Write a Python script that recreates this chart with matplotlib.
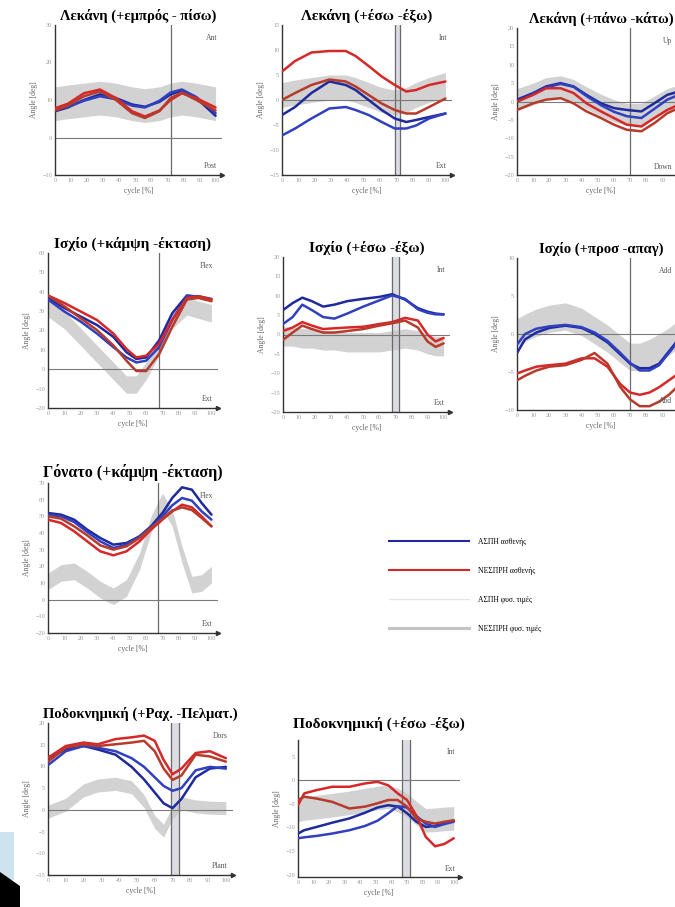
import numpy as np
import matplotlib
matplotlib.use("Agg")
import matplotlib.pyplot as plt
from matplotlib.patches import Polygon, Rectangle
from matplotlib.lines import Line2D
from matplotlib.transforms import blended_transform_factory

plt.rcParams['font.family'] = ['Liberation Serif', 'DejaVu Serif']

# ---------------- data ----------------
# Λεκάνη (+εμπρός -πίσω)
x_a = [0, 8, 18, 28, 38, 48, 56, 65, 72, 79, 88, 100]
a_blue1 = [7.0, 8.0, 10.0, 11.5, 10.5, 8.8, 8.2, 9.5, 11.5, 12.5, 10.5, 5.8]
a_blue2 = [7.5, 8.2, 9.8, 11.0, 10.2, 8.5, 8.0, 9.8, 12.0, 12.8, 10.8, 6.5]
a_red1 = [7.8, 9.0, 11.8, 12.8, 10.5, 7.0, 5.6, 7.2, 10.0, 11.8, 10.5, 8.0]
a_red2 = [7.2, 8.5, 11.0, 12.3, 10.0, 6.5, 5.2, 7.0, 10.5, 12.0, 10.0, 7.2]
a_norm = [9.0, 9.5, 10.0, 10.5, 10.0, 9.0, 8.5, 9.0, 10.0, 10.5, 10.0, 9.0]
a_sd = 4.5

# Λεκάνη (+έσω -έξω)
x_b = [0, 8, 18, 29, 39, 45, 53, 61, 69, 76, 82, 90, 100]
b_red1 = [5.7, 7.8, 9.5, 9.8, 9.8, 8.8, 6.8, 4.7, 3.0, 1.7, 2.0, 3.0, 3.7]
b_red2 = [0.0, 1.4, 3.0, 4.1, 3.7, 2.7, 1.0, -0.7, -2.0, -2.7, -2.7, -1.4, 0.3]
b_blue1 = [-3.0, -1.4, 1.4, 3.7, 3.0, 2.0, 0.0, -2.0, -3.7, -4.4, -4.0, -3.4, -2.7]
b_blue2 = [-7.1, -5.7, -3.7, -1.7, -1.4, -2.0, -3.0, -4.4, -5.7, -5.7, -5.1, -3.7, -2.7]
b_norm = [1.0, 1.5, 2.0, 2.5, 2.5, 2.0, 1.0, 0.0, -0.5, 0.0, 1.0, 2.0, 3.0]
b_sd = 2.5

# Λεκάνη (+πάνω -κάτω)
x_c = [0, 10, 18, 27, 35, 43, 52, 60, 68, 77, 85, 93, 100]
c_blue1 = [0.5, 2.3, 4.1, 5.0, 4.1, 1.8, -0.5, -1.8, -2.3, -2.7, -0.5, 1.8, 2.7]
c_blue2 = [0.0, 2.0, 3.8, 4.8, 4.0, 1.5, -1.0, -2.8, -4.0, -4.5, -2.0, 0.5, 1.8]
c_red1 = [0.0, 1.8, 3.6, 3.6, 2.3, -0.5, -2.7, -4.5, -6.3, -6.8, -4.5, -2.3, -0.9]
c_red2 = [-2.3, -0.5, 0.5, 0.9, -0.5, -2.7, -4.5, -6.3, -7.7, -8.1, -5.9, -3.2, -1.8]
c_norm = [0.5, 2.0, 3.5, 4.0, 3.0, 1.0, -1.0, -2.5, -3.5, -3.5, -1.5, 0.5, 1.5]
c_sd = 3.0

# Ισχίο (+κάμψη -έκταση)
x_d = [0, 10, 20, 30, 40, 48, 54, 60, 68, 76, 85, 92, 100]
d_red1 = [38.1, 34.2, 29.8, 25.4, 18.4, 10.5, 6.1, 7.0, 13.2, 25.4, 36.8, 37.7, 36.0]
d_red2 = [38.1, 32.5, 26.3, 20.2, 12.3, 4.4, -0.9, -0.9, 7.9, 21.9, 36.0, 36.8, 35.1]
d_blue1 = [36.8, 31.6, 27.2, 22.8, 16.7, 8.8, 5.3, 6.1, 14.9, 28.9, 38.1, 37.4, 36.0]
d_blue2 = [36.0, 29.8, 24.6, 18.4, 11.4, 6.1, 3.5, 4.4, 11.4, 25.4, 37.7, 37.7, 36.3]
d_norm = [31.6, 25.4, 16.7, 7.9, -0.9, -7.9, -7.9, -0.9, 11.4, 25.4, 32.5, 30.7, 28.9]
d_sd = 4.5

# Ισχίο (+έσω -έξω)
x_e = [0, 6, 12, 18, 25, 32, 40, 50, 60, 68, 76, 84, 90, 95, 100]
e_blue1 = [6.3, 8.1, 9.5, 8.6, 7.2, 7.7, 8.6, 9.2, 9.7, 10.4, 9.0, 6.8, 5.9, 5.4, 5.2]
e_blue2 = [2.7, 4.5, 7.7, 6.3, 4.5, 4.1, 5.4, 7.2, 8.8, 10.1, 9.2, 6.5, 5.6, 5.2, 5.2]
e_red1 = [0.9, 1.8, 3.2, 2.3, 1.4, 1.6, 1.8, 2.0, 2.7, 3.2, 4.3, 3.6, 0.0, -1.8, -0.9]
e_red2 = [-1.4, 0.5, 2.3, 1.4, 0.5, 0.5, 0.9, 1.4, 2.3, 2.9, 3.6, 1.8, -1.8, -3.2, -2.3]
e_norm = [-0.5, -0.5, -1.0, -1.0, -1.5, -1.5, -2.0, -2.0, -2.0, -1.5, -1.0, -1.5, -2.5, -3.0, -3.0]
e_sd = 2.5

# Ισχίο (+προσ -απαγ)
x_f = [0, 5, 12, 20, 30, 40, 48, 56, 64, 70, 76, 82, 88, 94, 100]
f_blue1 = [-2.5, -0.7, 0.2, 0.8, 1.1, 0.8, 0.0, -1.1, -2.7, -3.9, -4.5, -4.5, -3.9, -2.3, -0.7]
f_blue2 = [-1.4, 0.0, 0.7, 1.0, 1.2, 0.9, 0.2, -0.9, -2.5, -3.8, -4.8, -4.8, -4.1, -2.5, -0.9]
f_red1 = [-5.2, -4.8, -4.3, -4.1, -3.9, -3.2, -3.2, -4.3, -6.6, -7.7, -8.0, -7.7, -7.0, -6.1, -5.2]
f_red2 = [-6.1, -5.5, -4.8, -4.3, -4.1, -3.4, -2.5, -3.9, -7.0, -8.6, -9.5, -9.5, -8.9, -8.0, -6.8]
f_norm = [0.2, 0.8, 1.5, 2.0, 2.3, 1.6, 0.5, -0.6, -2.0, -3.0, -3.0, -2.5, -1.8, -1.0, 0.0]
f_sd = 1.8

# Γόνατο (+κάμψη -έκταση)
x_g = [0, 8, 16, 24, 32, 40, 48, 56, 63, 70, 76, 82, 88, 94, 100]
g_blue1 = [52, 51, 48, 42, 37, 33, 34, 38, 44, 52, 61, 67.4, 66, 58, 51]
g_blue2 = [51, 50, 46.6, 40.6, 35, 31, 33, 38, 43.4, 50, 56.6, 61, 59.4, 53, 48]
g_red1 = [48, 46, 41, 35, 29, 26.6, 29, 35, 42, 48, 53, 57, 55.4, 50, 44]
g_red2 = [50, 48.6, 44, 38.6, 32.6, 30, 32, 37, 43, 48.6, 53.4, 55.4, 53.8, 49, 44]
g_norm = [11, 16, 17, 12, 6, 2, 7, 23, 45, 59, 49, 27, 9, 10, 15]
g_sd = 5.0

# Ποδοκνημική (+Ραχ. -Πελματ.)
x_h = [0, 10, 20, 28, 38, 47, 54, 60, 65, 70, 75, 83, 91, 100]
h_red1 = [12.0, 14.7, 15.5, 15.1, 16.3, 16.7, 17.1, 15.9, 11.5, 8.2, 9.5, 13.1, 13.5, 11.9]
h_red2 = [11.1, 14.3, 15.1, 14.7, 15.1, 15.5, 15.9, 13.5, 9.5, 6.9, 7.9, 12.7, 12.3, 11.1]
h_blue1 = [11.9, 13.9, 14.7, 13.9, 12.7, 9.9, 7.0, 4.0, 1.5, 0.4, 2.5, 7.5, 9.5, 9.9]
h_blue2 = [10.3, 13.5, 14.7, 14.3, 13.5, 11.9, 9.9, 7.5, 5.5, 4.4, 5.0, 9.1, 9.9, 9.5]
h_norm = [-0.4, 1.2, 4.5, 5.6, 6.0, 5.2, 2.0, -2.8, -4.8, -0.5, 1.5, 0.8, 0.5, 0.4]
h_sd = 1.5

# Ποδοκνημική (+έσω -έξω)
x_i = [0, 4, 12, 22, 33, 43, 51, 58, 64, 70, 76, 82, 88, 94, 100]
i_red1 = [-5.3, -2.8, -2.1, -1.4, -1.4, -0.7, -0.35, -1.1, -2.8, -4.2, -7.5, -12.0, -14.0, -13.5, -12.3]
i_red2 = [-4.2, -3.5, -3.9, -4.6, -6.0, -5.6, -4.9, -4.2, -4.2, -5.6, -8.1, -8.8, -9.2, -8.8, -8.5]
i_blue1 = [-11.3, -10.6, -9.9, -9.0, -8.1, -6.9, -5.8, -5.3, -5.6, -7.0, -8.8, -9.9, -9.7, -9.0, -8.6]
i_blue2 = [-12.3, -12.1, -11.8, -11.3, -10.6, -9.7, -8.6, -7.0, -5.5, -5.8, -7.6, -9.2, -9.9, -9.3, -8.8]
i_norm = [-6.3, -6.0, -5.7, -5.3, -4.8, -4.2, -3.8, -3.5, -4.2, -5.3, -7.0, -8.5, -8.4, -8.2, -8.1]
i_sd = 2.5

legend_labels = ["ΑΣΠΗ ασθενής", "ΝΕΣΠΡΗ ασθενής", "ΑΣΠΗ φυσ. τιμές", "ΝΕΣΠΡΗ φυσ. τιμές"]

# ---------------- layout ----------------
W, H = 675, 907
fig = plt.figure(figsize=(W / 100, H / 100), dpi=100)

BLUE1, BLUE2 = '#1f2a9c', '#3040c0'
RED1, RED2 = '#d62828', '#b83a2a'
GRAY = '#c4c4c4'


def make_ax(l, t, r, b):
    return fig.add_axes([l / W, 1 - b / H, (r - l) / W, (b - t) / H])


def panel(box, title, x, lines, norm, sd, ylim, yticks, top_lbl, bot_lbl, vlines,
          tsize=10.5, tpad=4, edge=False):
    ax = make_ax(*box)
    x = np.array(x)
    norm = np.array(norm)
    ax.fill_between(x, norm - sd, norm + sd, color=GRAY, alpha=0.75, lw=0, zorder=1)
    if len(vlines) == 2:
        ax.axvspan(vlines[0], vlines[1], color='#dcdce4', zorder=0.5)
    for v in vlines:
        ax.axvline(v, color='#6a6a6a', lw=0.9, zorder=2)
    ax.axhline(0, color='#7a7a7a', lw=0.8, zorder=2)
    cols = [BLUE1, BLUE2, RED1, RED2]
    for y, c in zip(lines, cols):
        ax.plot(x, y, color=c, lw=1.8, zorder=3, solid_capstyle='round')
    ax.set_xlim(0, 104)
    ax.set_ylim(*ylim)
    # the right column is cropped by the picture edge
    ax.set_xticks(range(0, 91 if edge else 101, 10))
    ax.set_yticks(yticks)
    ax.tick_params(labelsize=4.5, colors='#999999', length=0, pad=2)
    for s in ['top', 'right']:
        ax.spines[s].set_visible(False)
    for s in ['left', 'bottom']:
        ax.spines[s].set_color('#333333')
        ax.spines[s].set_linewidth(1.0)
    ax.plot(1, 0, '>', color='#333333', ms=3, transform=ax.transAxes, clip_on=False)
    ax.set_title(title, fontsize=tsize, fontweight='bold', pad=tpad)
    ax.set_ylabel('Angle [deg]', fontsize=5.5, color='#666666', labelpad=3)
    ax.set_xlabel('cycle [%]', fontsize=5.5, color='#666666', labelpad=3)
    if edge:
        tr = blended_transform_factory(fig.transFigure, ax.transAxes)
        xr = 672 / W
    else:
        tr = ax.transAxes
        xr = 0.97
    ax.text(xr, 0.94, top_lbl, transform=tr, ha='right', va='top',
            fontsize=5.5, color='#555555')
    ax.text(xr, 0.03, bot_lbl, transform=tr, ha='right', va='bottom',
            fontsize=5.5, color='#555555')
    return ax


panel((55, 25, 222, 175), 'Λεκάνη (+εμπρός - πίσω)', x_a,
      [a_blue1, a_blue2, a_red1, a_red2], a_norm, a_sd,
      (-10, 30), range(-10, 31, 10), 'Ant', 'Post', [72])
panel((282, 25, 452, 175), 'Λεκάνη (+έσω -έξω)', x_b,
      [b_blue1, b_blue2, b_red1, b_red2], b_norm, b_sd,
      (-15, 15), range(-15, 16, 5), 'Int', 'Ext', [69, 72], tsize=11)
panel((517, 28, 685, 175), 'Λεκάνη (+πάνω -κάτω)', x_c,
      [c_blue1, c_blue2, c_red1, c_red2], c_norm, c_sd,
      (-20, 20), range(-20, 21, 5), 'Up', 'Down', [70], edge=True)

panel((48, 253, 218, 408), 'Ισχίο (+κάμψη -έκταση)', x_d,
      [d_blue1, d_blue2, d_red1, d_red2], d_norm, d_sd,
      (-20, 60), range(-20, 61, 10), 'Flex', 'Ext', [68], tsize=11)
panel((283, 257, 450, 412), 'Ισχίο (+έσω -έξω)', x_e,
      [e_blue1, e_blue2, e_red1, e_red2], e_norm, e_sd,
      (-20, 20), range(-20, 21, 5), 'Int', 'Ext', [68, 72], tsize=11)
panel((517, 258, 685, 410), 'Ισχίο (+προσ -απαγ)', x_f,
      [f_blue1, f_blue2, f_red1, f_red2], f_norm, f_sd,
      (-10, 10), range(-10, 11, 5), 'Add', 'Abd', [70], edge=True)

panel((48, 483, 218, 633), 'Γόνατο (+κάμψη -έκταση)', x_g,
      [g_blue1, g_blue2, g_red1, g_red2], g_norm, g_sd,
      (-20, 70), range(-20, 71, 10), 'Flex', 'Ext', [67.5], tsize=11.5)

panel((48, 723, 233, 875), 'Ποδοκνημική (+Ραχ. -Πελματ.)', x_h,
      [h_blue1, h_blue2, h_red1, h_red2], h_norm, h_sd,
      (-15, 20), range(-15, 21, 5), 'Dors', 'Plant', [69, 73.5])
panel((298, 740, 460, 877), 'Ποδοκνημική (+έσω -έξω)', x_i,
      [i_blue1, i_blue2, i_red1, i_red2], i_norm, i_sd,
      (-20.5, 8.5), range(-20, 6, 5), 'Int', 'Ext', [67, 72], tsize=11, tpad=9)

# legend
handles = [Line2D([], [], color=BLUE1, lw=1.5),
           Line2D([], [], color=RED1, lw=1.5),
           Line2D([], [], color='#e6e6e6', lw=1.0),
           Line2D([], [], color=GRAY, lw=2.2)]
fig.legend(handles, legend_labels, loc='upper left', bbox_to_anchor=(382 / W, 1 - 531 / H),
           frameon=False, fontsize=5.5, handlelength=10.5, handletextpad=1.2,
           labelspacing=2.75)

# screenshot leftovers at the lower-left corner
fig.add_artist(Rectangle((0, 1 - 880 / H), 14 / W, 48 / H, transform=fig.transFigure,
                         color='#cde3f0', lw=0))
fig.add_artist(Polygon([(0, 1 - 872 / H), (20 / W, 1 - 886 / H), (20 / W, 0), (0, 0)],
                       closed=True, transform=fig.transFigure, color='black', lw=0))

fig.savefig('out.png', dpi=100)
